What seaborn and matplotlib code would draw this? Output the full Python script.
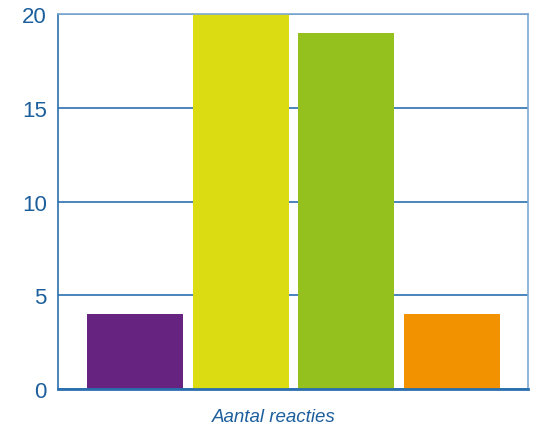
import pandas as pd
import matplotlib.pyplot as plt
import seaborn as sns

# data
categories = ['A', 'B', 'C', 'D']
values = [4, 20, 19, 4]
colors = ['#66237f', '#dcdc12', '#95c11f', '#f39200']
blue = '#2a6fb0'
text_blue = '#1d5f9c'

df = pd.DataFrame({'cat': categories, 'val': values})

sns.set_style('white')
plt.rcParams['font.family'] = ['Liberation Sans', 'DejaVu Sans']

fig = plt.figure(figsize=(5.37, 4.31), dpi=100)
ax = fig.add_axes([0.108, 0.095, 0.875, 0.87])

sns.barplot(data=df, x='cat', y='val', hue='cat', palette=colors,
            width=0.91, saturation=1, legend=False, ax=ax, zorder=3,
            linewidth=0)

ax.set_xlim(-0.73, 3.72)
ax.set_ylim(0, 20)
ax.set_yticks([0, 5, 10, 15, 20])
ax.set_xticks([])
ax.yaxis.grid(True, color=blue, linewidth=1.2, zorder=0)
ax.set_axisbelow(True)

for s in ax.spines.values():
    s.set_color(blue)
    s.set_linewidth(1.2)
    s.set_zorder(4)
ax.spines['bottom'].set_linewidth(2)
ax.spines['top'].set_color('#7fa9d2')
ax.spines['right'].set_color('#7fa9d2')

ax.tick_params(axis='y', length=0, pad=8, labelsize=16, labelcolor=text_blue)
ax.set_ylabel('')
ax.set_xlabel('Aantal reacties', fontsize=13.5, style='italic', color=text_blue)
ax.xaxis.set_label_coords(0.46, -0.05)

plt.savefig('out.png', dpi=100)
